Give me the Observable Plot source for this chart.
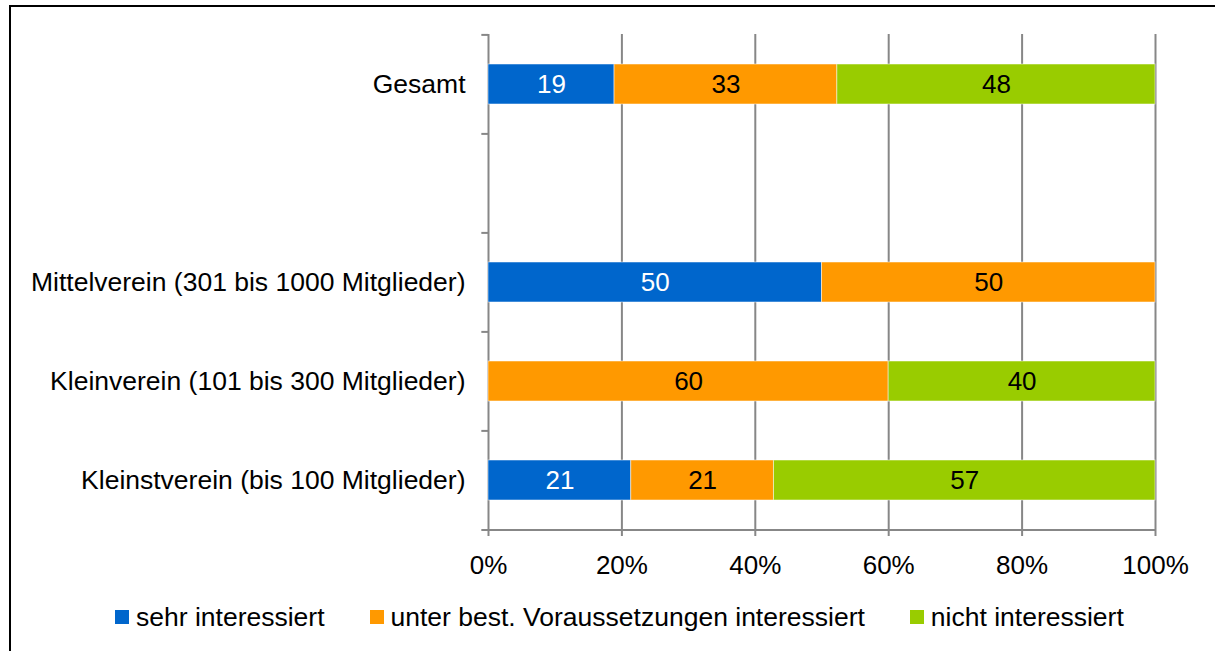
<!DOCTYPE html>
<html>
<head>
<meta charset="utf-8">
<script src="https://cdn.jsdelivr.net/npm/d3@7"></script>
<script src="https://cdn.jsdelivr.net/npm/@observablehq/plot@0.6"></script>
<style>
  html, body { margin: 0; padding: 0; background: #fff; }
  body { width: 1215px; height: 651px; position: relative; overflow: hidden; font-family: "Liberation Sans", Arial, sans-serif; }
  #frame { position: absolute; left: 9px; top: 5px; width: 1300px; height: 700px; border-top: 2px solid #000; border-left: 2px solid #000; pointer-events: none; }
  #chart { position: absolute; left: 0; top: 0; }
  #legend { position: absolute; left: 115px; top: 603px; display: flex; align-items: center; gap: 45px; font-size: 26.5px; color: #000; line-height: 28px; }
  .item { display: flex; align-items: center; gap: 7px; }
  .sw { width: 14px; height: 14px; display: inline-block; }
</style>
</head>
<body>
<div id="chart"></div>
<div id="legend"></div>
<div id="frame"></div>
<script>
const categories = ["Gesamt", "", "Mittelverein (301 bis 1000 Mitglieder)", "Kleinverein (101 bis 300 Mitglieder)", "Kleinstverein (bis 100 Mitglieder)"];
const series = ["sehr interessiert", "unter best. Voraussetzungen interessiert", "nicht interessiert"];
const sehrInteressiert = [18.9, 0, 50, 0, 21.4];
const unterInteressiert = [33.4, 0, 50, 60, 21.4];
const nichtInteressiert = [47.7, 0, 0, 40, 57.2];
const colors = ["#0066CC", "#FF9900", "#99CC00"];
const xTicks = [0, 20, 40, 60, 80, 100];
const gridTicks = [20, 40, 60, 80, 100];

const valuesBySeries = [sehrInteressiert, unterInteressiert, nichtInteressiert];
const data = [];
categories.forEach((cat, i) => {
  series.forEach((s, j) => {
    const v = valuesBySeries[j][i];
    if (v > 0) data.push({cat, series: s, value: v});
  });
});

const gray = "#878787";
const half = 49.6;

const plot = Plot.plot({
  width: 1215,
  height: 580,
  marginLeft: 488,
  marginRight: 60,
  marginTop: 34,
  marginBottom: 50,
  style: {fontFamily: "'Liberation Sans', Arial, sans-serif", fontSize: "26px", color: "#000", background: "transparent"},
  x: {domain: [0, 100], label: null},
  y: {domain: categories, paddingInner: 0.6, paddingOuter: 0.3, label: null},
  color: {domain: series, range: colors},
  marks: [
    Plot.gridX({ticks: gridTicks, stroke: gray, strokeOpacity: 1, strokeWidth: 2}),
    Plot.ruleX([0], {stroke: gray, strokeWidth: 2}),
    Plot.ruleY(categories, {y: d => d, x1: -1, x2: 0, dy: -half, stroke: gray, strokeWidth: 2}),
    Plot.ruleY(categories.slice(-1), {y: d => d, x1: -1, x2: 100, dy: half, stroke: gray, strokeWidth: 2}),
    Plot.barX(data, Plot.stackX({x: "value", y: "cat", fill: "series", stroke: "white", strokeOpacity: 0.5, strokeWidth: 1})),
    Plot.text(data, Plot.stackX({x: "value", y: "cat", z: "series", text: d => d.series === series[0] ? Math.round(d.value) : null, fill: "white", fontSize: 26})),
    Plot.text(data, Plot.stackX({x: "value", y: "cat", z: "series", text: d => d.series !== series[0] ? Math.round(d.value) : null, fill: "black", fontSize: 26})),
    Plot.axisY({tickSize: 0, tickPadding: 23, fontSize: 26.5}),
    Plot.axisX({ticks: xTicks, tickFormat: d => d + "%", tickSize: 6, tickPadding: 19, stroke: gray, strokeWidth: 2, fill: "black", fontSize: 26})
  ]
});
document.getElementById("chart").appendChild(plot);

const legend = document.getElementById("legend");
series.forEach((s, j) => {
  const item = document.createElement("div");
  item.className = "item";
  const sw = document.createElement("span");
  sw.className = "sw";
  sw.style.background = colors[j];
  const label = document.createElement("span");
  label.textContent = s;
  item.appendChild(sw);
  item.appendChild(label);
  legend.appendChild(item);
});
</script>
</body>
</html>
